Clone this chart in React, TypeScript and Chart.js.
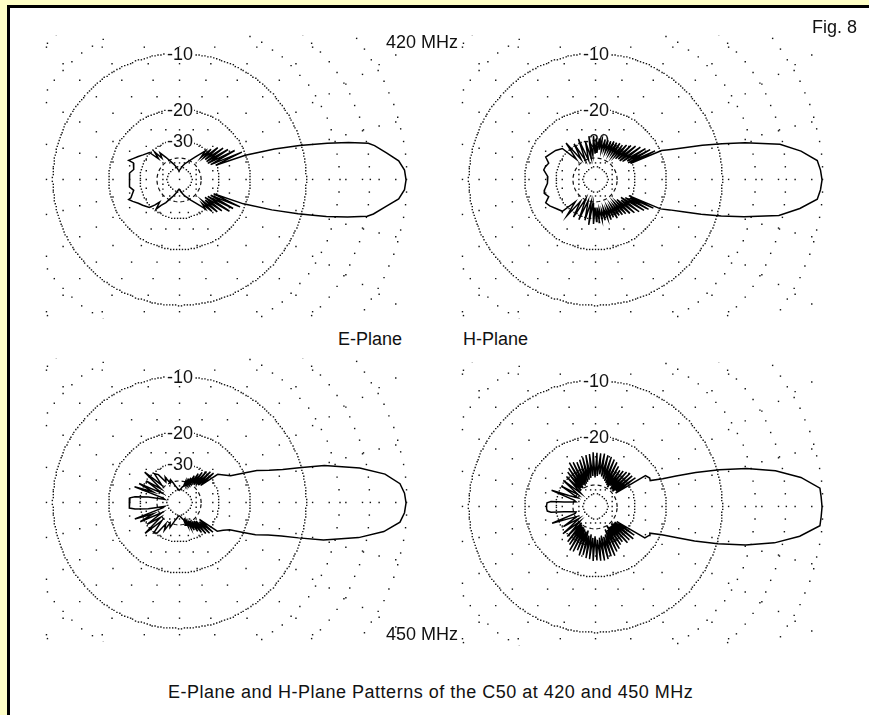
import React, { useEffect, useRef } from "react";
import { Chart, registerables } from "chart.js";

Chart.register(...registerables);

// ---------------- DATA (gain in dB vs. azimuth in degrees) ----------------
// Each pattern: one angle list (0..180, measured from the main-lobe direction),
// one list of dB values for the upper half and one for the lower half.

const ANG_E420 = [0, 2.5, 5, 7.5, 10, 11, 12.5, 14, 15, 16, 18, 20.5, 22, 24, 26, 28, 30, 32, 34, 36, 38, 40, 42, 44, 46, 48, 50, 55, 60, 65, 70, 75, 80, 85, 90, 95, 100, 105, 110, 115, 120, 125, 128, 131, 134, 137, 145, 150, 155, 158.6, 159.5, 167, 172, 180];
const UP_E420 = [0, -0.1, -0.5, -1.4, -2.3, -2.8, -4.6, -6.8, -8.6, -10.2, -14, -20, -30, -20.5, -32, -22, -33, -23.5, -33, -24.5, -33, -25.8, -33, -28, -34, -30, -32, -36, -39, -42, -44, -47, -50, -53, -55, -53, -50, -47, -44, -41, -37, -33, -36, -31, -35, -29.6, -28.2, -27, -25.7, -24.6, -26.4, -27.2, -26, -26.1];
const LO_E420 = [0, -0.1, -0.5, -1.5, -2.4, -2.9, -4.7, -6.9, -8.8, -10.4, -14.5, -20.5, -31, -21, -32, -22.5, -33, -23, -34, -25, -33, -26, -34, -27.5, -33, -30, -32, -36, -39, -42, -44, -47, -50, -53, -55, -53, -50, -47, -44, -41, -37, -34, -31, -35, -32, -29.5, -28, -27, -25.6, -24.6, -25.5, -27.2, -26, -26.1];

const ANG_H420 = [0, 2.5, 5, 8, 11, 14, 16, 18, 20, 22, 24, 25, 26, 27.5, 29, 30.5, 32, 34, 36, 38, 40, 42, 44, 46, 48, 50, 52, 54, 56, 58, 60, 62, 64, 66, 68, 70, 72, 74, 76, 78, 80, 82, 84, 86, 88, 90, 92, 95, 98, 100, 104, 108, 112, 116, 120, 124, 128, 132, 136, 143, 150, 155, 160, 165, 169, 176, 180];
const UP_H420 = [0, -0.1, -0.3, -1.5, -3.2, -6.6, -9.3, -12, -15, -17.5, -19.5, -30, -21, -31, -22, -31, -23, -33, -24, -34, -25, -34, -26, -35, -27, -34, -28, -35, -28, -34, -28.5, -35, -28.5, -34, -29, -35, -29, -34, -29, -35, -29.5, -34, -29, -36, -29, -37, -28, -38, -28, -40, -30, -41, -28, -40, -29, -38, -27, -36, -27.6, -26.2, -25.3, -24.5, -26.2, -25.5, -25.2, -26.9, -26.8];
const LO_H420 = [0, -0.1, -0.3, -1.6, -3.3, -6.7, -9.4, -12.2, -15.2, -17.8, -19.8, -31, -21.5, -30, -22.5, -32, -23.5, -34, -24.5, -33, -25.5, -35, -26.5, -34, -27.5, -35, -28, -34, -28.5, -35, -28, -34, -29, -35, -28.5, -34, -29.5, -35, -29, -34, -29.5, -35, -28.5, -36, -29, -36, -28, -39, -27.5, -40, -29, -40, -28.5, -41, -28.5, -37, -27.5, -35, -27.6, -26.6, -25.2, -24.5, -26.2, -25.1, -25.5, -26.8, -26.8];

const ANG_E450 = [0, 2.5, 5, 8, 11, 14.5, 16.4, 18, 20, 22.7, 24.8, 28, 32, 36.6, 39, 41, 43, 45, 47, 49, 51, 53, 55, 57, 59, 61, 63, 65, 67, 69, 71, 73, 75, 78, 82, 86, 90, 94, 98, 102, 106, 110, 114, 118, 122, 126, 130, 134, 138, 142, 146, 150, 154, 157, 160, 163, 166, 169, 172, 174, 177, 180];
const UP_E450 = [0, -0.1, -0.4, -1.5, -3.6, -7.1, -10.2, -12.6, -14.8, -17, -19.8, -23.3, -25, -26.6, -36, -27.5, -37, -28, -38, -29, -39, -30.5, -38, -32, -40, -34, -41, -36, -42, -37, -43, -39, -44, -45, -47, -48.5, -49, -48, -46, -44, -41, -38, -40, -35, -38, -32, -30.5, -38, -27.3, -39.5, -30, -42, -28, -36, -26.9, -45, -47, -34, -28, -26.2, -26, -26];
const LO_E450 = [0, -0.1, -0.4, -1.6, -3.7, -7.2, -10.3, -12.8, -15, -17.3, -20, -23.6, -25.3, -26.8, -37, -27.8, -36, -28.5, -38, -29.5, -39, -31, -38, -32.5, -41, -34, -40, -36, -42, -38, -43, -39, -44, -45, -47, -48.5, -49, -48, -46, -44, -41, -37, -40, -34, -38, -31, -30, -38, -27.5, -39, -30.5, -42, -28.5, -36, -27, -45, -47, -34, -28, -26.2, -26, -26];

const ANG_H450 = [0, 2.5, 4.8, 8.2, 11.4, 14.3, 16.8, 19, 21, 22.8, 25.7, 28, 32,
  34, 36, 38, 40, 42, 44, 46, 48, 50, 52, 54, 56, 58, 60, 62, 64, 66, 68, 70, 72, 74, 76, 78, 80, 82, 84, 86, 88, 90, 92, 94, 96, 98, 100, 102, 104, 106, 108, 110, 112, 114, 116, 118, 120, 122, 124, 126, 128, 130,
  133, 136, 140, 144, 148, 152, 156, 159, 162, 165, 168, 171, 173, 175, 178, 180];
const UP_H450 = [0, -0.05, -0.1, -1.5, -3.6, -6.4, -9.6, -13, -16.5, -19.4, -22.5, -22.3, -23,
  -38, -26, -37, -26.5, -39, -26.4, -38, -27, -39, -27.5, -37, -28, -39, -27, -38, -26, -37, -25.5, -36, -25, -35, -24.8, -34, -24.5, -33, -24.6, -34, -24.5, -35, -24.3, -34, -24.8, -35, -25, -36, -25.5, -37, -26, -38, -26.5, -39, -26, -38, -25.5, -40, -27, -39, -28, -40,
  -29, -42, -29.2, -41, -30, -42, -36, -27.2, -40, -42, -39, -34, -28, -26.6, -26.5, -26.5];
const LO_H450 = [0, -0.05, -0.1, -1.6, -3.7, -6.5, -9.8, -13.2, -16.8, -19.6, -22.6, -22.5, -23.2,
  -37, -26.5, -38, -26, -38, -27, -39, -26.5, -38, -28, -38, -27.5, -40, -26.5, -37, -26, -38, -25, -35, -25.2, -34, -24.6, -35, -24.4, -34, -24.5, -33, -24.7, -35, -24.5, -34, -25, -36, -25.2, -35, -26, -38, -25.5, -37, -27, -38, -26, -39, -25.8, -39, -27.5, -40, -28, -41,
  -29.5, -41, -29, -42, -31, -41, -35, -27.4, -41, -42, -39, -34, -28, -26.7, -26.5, -26.5];

// ring labels shown on each plot
const RING_LABELS_E420 = [-10, -20, -30];
const RING_LABELS_H420 = [-10, -20, -30];
const RING_LABELS_E450 = [-10, -20, -30];
const RING_LABELS_H450 = [-10, -20];

// grid definition (ARRL log-periodic scale)
const GRID_DENSE_DB = [-10, -20, -30, -50];
const GRID_SPARSE_DB = [0, -3, -6];
const GRID_DASHED_DB = [-40];
const SPOKE_STEP_DEG = 15;

// texts
const FREQ_LABELS = ["420 MHz", "450 MHz"];
const PLANE_LABELS = ["E-Plane", "H-Plane"];
const FIG_LABEL = "Fig. 8";
const TITLE = "E-Plane and H-Plane Patterns of the C50 at 420 and 450 MHz";

// ---------------- layout ----------------
const R0 = 232; // radius (px) of the 0 dB ring
const EXT_LEFT = 137;
const EXT_RIGHT = 234;
const EXT_TOP = 149;
const EXT_BOTTOM = 143;
const FONT = '"Liberation Sans", Arial, Helvetica, sans-serif';

const rOf = (db: number) => R0 * Math.pow(0.89, -db / 2);

type Pt = { x: number; y: number };

function patternPoints(ang: number[], up: number[], lo: number[]): Pt[] {
  const pts: Pt[] = [];
  for (let i = 0; i < ang.length; i++) {
    const t = (ang[i] * Math.PI) / 180;
    const r = rOf(up[i]);
    pts.push({ x: r * Math.cos(t), y: r * Math.sin(t) });
  }
  for (let i = ang.length - 1; i >= 0; i--) {
    const t = (-ang[i] * Math.PI) / 180;
    const r = rOf(lo[i]);
    pts.push({ x: r * Math.cos(t), y: r * Math.sin(t) });
  }
  return pts;
}

const snap = (v: number) => Math.round(v) + 0.5;

function ringDots(dbs: number[], spacing: number): Pt[] {
  const pts: Pt[] = [];
  dbs.forEach((db) => {
    const r = rOf(db);
    const n = Math.max(10, Math.round((2 * Math.PI * r) / spacing));
    for (let k = 0; k < n; k++) {
      const t = (2 * Math.PI * k) / n;
      pts.push({ x: snap(r * Math.cos(t)), y: snap(r * Math.sin(t)) });
    }
  });
  return pts;
}

function spokeDots(stepDeg: number, spacing: number): Pt[] {
  const pts: Pt[] = [{ x: 0.5, y: 0.5 }];
  for (let a = 0; a < 360; a += stepDeg) {
    const t = (a * Math.PI) / 180;
    const c = Math.cos(t);
    const s = Math.sin(t);
    const major = Math.max(Math.abs(c), Math.abs(s));
    for (let k = 1; k * spacing <= 290; k++) {
      const d = (k * spacing) / major;
      pts.push({ x: snap(d * c), y: snap(d * s) });
    }
  }
  return pts;
}

function dashedRing(db: number): Pt[] {
  const r = rOf(db);
  const pts: Pt[] = [];
  for (let a = 0; a <= 360; a += 4) {
    const t = (a * Math.PI) / 180;
    pts.push({ x: r * Math.cos(t), y: r * Math.sin(t) });
  }
  return pts;
}

type PlotSpec = {
  cx: number;
  cy: number;
  angles: number[];
  upper: number[];
  lower: number[];
  labels: number[];
};

const PLOTS: PlotSpec[] = [
  { cx: 178, cy: 180, angles: ANG_E420, upper: UP_E420, lower: LO_E420, labels: RING_LABELS_E420 },
  { cx: 594, cy: 180, angles: ANG_H420, upper: UP_H420, lower: LO_H420, labels: RING_LABELS_H420 },
  { cx: 178, cy: 503, angles: ANG_E450, upper: UP_E450, lower: LO_E450, labels: RING_LABELS_E450 },
  { cx: 594, cy: 507, angles: ANG_H450, upper: UP_H450, lower: LO_H450, labels: RING_LABELS_H450 },
];

const DOT_STYLE = {
  showLine: false,
  pointStyle: "rect",
  pointRadius: 1.0,
  pointBorderWidth: 0,
  pointBackgroundColor: "#111",
};

function PolarPanel({ spec }: { spec: PlotSpec }) {
  const ref = useRef<HTMLCanvasElement | null>(null);
  const W = EXT_LEFT + EXT_RIGHT;
  const H = EXT_TOP + EXT_BOTTOM;

  useEffect(() => {
    if (!ref.current) return;
    const labelPlugin = {
      id: "ringLabels",
      beforeDatasetDraw(chart: any, args: any) {
        if (args.index !== 0) return;
        const ctx = chart.ctx as CanvasRenderingContext2D;
        const xs = chart.scales.x;
        const ys = chart.scales.y;
        ctx.save();
        ctx.font = `18px ${FONT}`;
        ctx.textAlign = "center";
        ctx.textBaseline = "middle";
        spec.labels.forEach((db) => {
          const px = xs.getPixelForValue(0) + 1;
          const py = ys.getPixelForValue(rOf(db));
          const text = String(db);
          const w = ctx.measureText(text).width;
          ctx.fillStyle = "#ffffff";
          ctx.fillRect(px - w / 2 - 1, py - 7, w + 2, 14);
          ctx.fillStyle = "#111";
          ctx.fillText(text, px, py + 1);
        });
        ctx.restore();
      },
    };

    const chart = new Chart(ref.current, {
      type: "scatter",
      data: {
        datasets: [
          {
            data: patternPoints(spec.angles, spec.upper, spec.lower),
            showLine: true,
            borderColor: "#000",
            borderWidth: 1.5,
            pointRadius: 0,
            fill: false,
            tension: 0,
          },
          {
            data: dashedRing(GRID_DASHED_DB[0]),
            showLine: true,
            borderColor: "#111",
            borderWidth: 1.2,
            borderDash: [4, 3],
            pointRadius: 0,
            fill: false,
          },
          { data: ringDots(GRID_DENSE_DB, 3), ...DOT_STYLE },
          { data: [...ringDots(GRID_SPARSE_DB, 13), ...spokeDots(SPOKE_STEP_DEG, 17)], ...DOT_STYLE },
        ] as any,
      },
      options: {
        animation: false,
        responsive: false,
        maintainAspectRatio: false,
        events: [],
        layout: { padding: 0 },
        plugins: { legend: { display: false }, tooltip: { enabled: false } },
        scales: {
          x: { type: "linear", min: -EXT_LEFT, max: EXT_RIGHT, display: false },
          y: { type: "linear", min: -EXT_BOTTOM, max: EXT_TOP, display: false },
        },
      },
      plugins: [labelPlugin],
    });
    return () => chart.destroy();
  }, [spec]);

  return (
    <canvas
      ref={ref}
      width={W}
      height={H}
      style={{
        position: "absolute",
        left: spec.cx - EXT_LEFT,
        top: spec.cy - EXT_TOP,
        width: W,
        height: H,
      }}
    />
  );
}

const textStyle: React.CSSProperties = {
  position: "absolute",
  fontFamily: FONT,
  fontSize: 18,
  lineHeight: "18px",
  color: "#111",
  whiteSpace: "nowrap",
};

export default function App() {
  return (
    <div
      style={{
        position: "absolute",
        left: 0,
        top: 0,
        width: 869,
        height: 715,
        background: "#FFFFC6",
        overflow: "hidden",
      }}
    >
      <div
        style={{
          position: "absolute",
          left: 7,
          top: 5,
          width: 862,
          height: 710,
          boxSizing: "border-box",
          background: "#fff",
          borderTop: "3px solid #000",
          borderLeft: "3px solid #000",
        }}
      />
      {PLOTS.map((p, i) => (
        <PolarPanel key={i} spec={p} />
      ))}
      <div style={{ ...textStyle, left: 386, top: 33 }}>{FREQ_LABELS[0]}</div>
      <div style={{ ...textStyle, left: 386, top: 625 }}>{FREQ_LABELS[1]}</div>
      <div style={{ ...textStyle, left: 812, top: 18 }}>{FIG_LABEL}</div>
      <div style={{ ...textStyle, left: 338, top: 330 }}>{PLANE_LABELS[0]}</div>
      <div style={{ ...textStyle, left: 463, top: 330 }}>{PLANE_LABELS[1]}</div>
      <div style={{ ...textStyle, left: 168, top: 683, letterSpacing: "0.5px" }}>{TITLE}</div>
    </div>
  );
}
